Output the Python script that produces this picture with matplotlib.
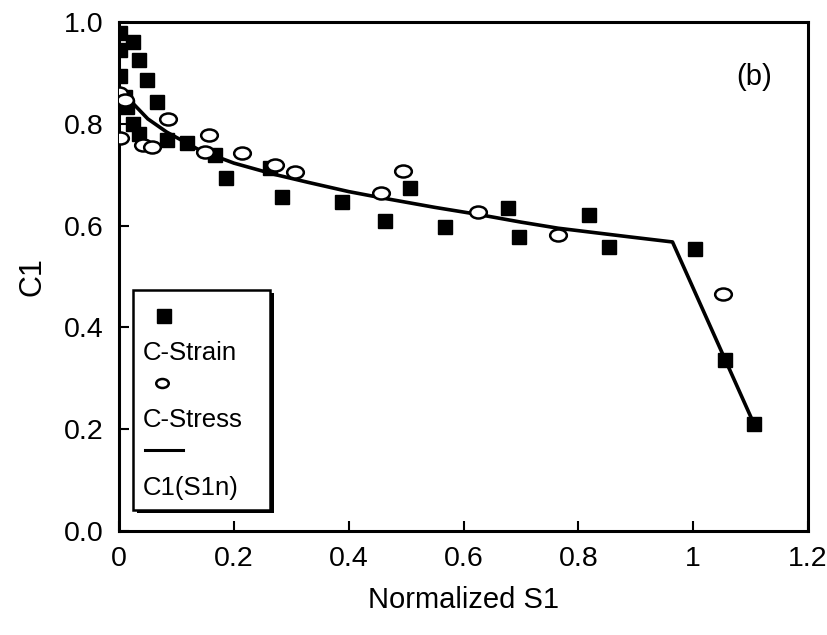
import numpy as np
import matplotlib
matplotlib.use("Agg")
import matplotlib.pyplot as plt
from matplotlib.path import Path
from matplotlib.transforms import Affine2D
from matplotlib.patches import Rectangle

# C-Strain (filled squares)
strain_x = [0.002, 0.002, 0.024, 0.034, 0.049, 0.066, 0.002, 0.010, 0.014, 0.024,
            0.034, 0.083, 0.118, 0.167, 0.186, 0.263, 0.283, 0.388, 0.463, 0.506,
            0.567, 0.678, 0.697, 0.819, 0.854, 1.003, 1.056, 1.106]
strain_y = [0.978, 0.945, 0.961, 0.925, 0.886, 0.843, 0.895, 0.853, 0.833, 0.800,
            0.780, 0.768, 0.762, 0.739, 0.693, 0.713, 0.656, 0.646, 0.609, 0.674,
            0.597, 0.635, 0.578, 0.621, 0.558, 0.554, 0.336, 0.210]

# C-Stress (open ellipses)
stress_x = [0.002, 0.000, 0.010, 0.042, 0.057, 0.085, 0.150, 0.157, 0.214, 0.271,
            0.306, 0.456, 0.494, 0.626, 0.765, 1.052]
stress_y = [0.772, 0.860, 0.847, 0.758, 0.755, 0.810, 0.745, 0.778, 0.742, 0.719,
            0.705, 0.664, 0.707, 0.627, 0.581, 0.466]

# fitted curve C1(S1n)
fit_x = [0.022, 0.050, 0.083, 0.141, 0.200, 0.270, 0.330, 0.400, 0.456, 0.550,
         0.626, 0.700, 0.765, 0.889, 0.964, 1.056, 1.106]
fit_y = [0.843, 0.810, 0.784, 0.748, 0.723, 0.701, 0.685, 0.667, 0.655, 0.636,
         0.622, 0.607, 0.595, 0.578, 0.568, 0.336, 0.210]

plt.rcParams['font.family'] = ['Liberation Sans', 'DejaVu Sans']

ellipse = Path.unit_circle().transformed(Affine2D().scale(1.0, 0.72))

fig = plt.figure(figsize=(8.27, 6.35), dpi=100)
ax = fig.add_axes([0.144, 0.164, 0.833, 0.801])

ax.plot(fit_x, fit_y, color='black', lw=2.6, solid_joinstyle='round', zorder=2)
ax.plot(strain_x, strain_y, ls='none', marker='s', ms=9.5, color='black', zorder=3)
ax.plot(stress_x, stress_y, ls='none', marker=ellipse, ms=12, mfc='white',
        mec='black', mew=1.8, zorder=4)

ax.set_xlim(0, 1.2)
ax.set_ylim(0, 1.0)
ax.set_xticks([0, 0.2, 0.4, 0.6, 0.8, 1.0, 1.2])
ax.set_xticklabels(['0', '0.2', '0.4', '0.6', '0.8', '1', '1.2'])
ax.set_yticks([0, 0.2, 0.4, 0.6, 0.8, 1.0])
ax.set_yticklabels(['0.0', '0.2', '0.4', '0.6', '0.8', '1.0'])
ax.tick_params(direction='in', length=7, width=1.5, labelsize=20.5, pad=11)
for s in ax.spines.values():
    s.set_linewidth(2.2)

ax.set_xlabel('Normalized S1', fontsize=21, labelpad=10)
ax.set_ylabel('C1', fontsize=22, labelpad=12)
ax.text(0.922, 0.892, '(b)', transform=ax.transAxes, fontsize=21,
        ha='center', va='center')

# legend box drawn by hand: key above each label, with a drop shadow
tr = ax.transAxes
ax.add_patch(Rectangle((0.026, 0.035), 0.199, 0.432, transform=tr,
                       facecolor='black', edgecolor='none', zorder=5))
ax.add_patch(Rectangle((0.020, 0.041), 0.199, 0.432, transform=tr,
                       facecolor='white', edgecolor='black', lw=1.8, zorder=6))
ax.plot([0.065], [0.422], transform=tr, marker='s', ms=9.5, color='black', zorder=7)
ax.text(0.034, 0.350, 'C-Strain', transform=tr, fontsize=18.5, va='center', zorder=7)
ax.plot([0.062], [0.291], transform=tr, marker=ellipse, ms=9, mfc='white',
        mec='black', mew=1.8, zorder=7)
ax.text(0.034, 0.218, 'C-Stress', transform=tr, fontsize=18.5, va='center', zorder=7)
ax.plot([0.038, 0.093], [0.159, 0.159], transform=tr, color='black', lw=2.2, zorder=7)
ax.text(0.034, 0.084, 'C1(S1n)', transform=tr, fontsize=18.5, va='center', zorder=7)

fig.savefig('out.png', dpi=100)
